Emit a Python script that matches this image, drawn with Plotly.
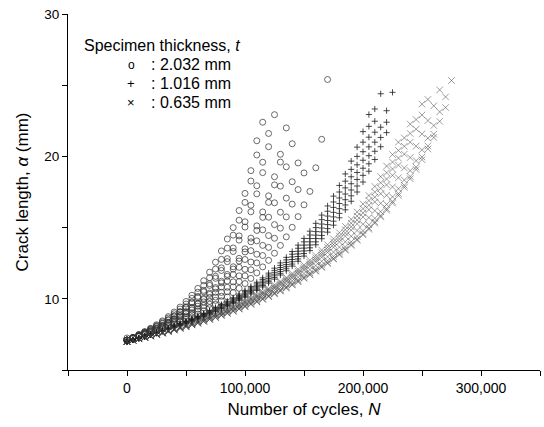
import plotly.graph_objects as go

# Readings every 5,000 cycles; one list of crack lengths (mm) per specimen
STEP = 5000

# t = 2.032 mm (circles)
t2032 = [
    [7.25,7.29,7.49,7.70,7.93,8.18,8.45,8.75,9.07,9.42,9.81,10.25,10.73,11.27,11.87,12.57,13.36,14.20,15.00,16.20,17.40,19.00,21.10],
    [7.10,7.28,7.47,7.67,7.89,8.12,8.38,8.65,8.95,9.28,9.63,10.03,10.46,10.94,11.48,12.09,12.77,13.56,14.47,15.52,16.77,18.27,20.10,22.40],
    [7.10,7.27,7.45,7.64,7.84,8.06,8.29,8.54,8.82,9.11,9.43,9.78,10.17,10.59,11.06,11.58,12.17,12.82,13.57,14.42,15.41,16.57,17.94,19.59,21.61],
    [7.10,7.26,7.44,7.62,7.82,8.04,8.26,8.51,8.78,9.06,9.37,9.71,10.08,10.49,10.94,11.44,11.99,12.61,13.32,14.12,15.04,16.11,17.37,18.86,20.68,22.93],
    [7.10,7.25,7.41,7.58,7.75,7.94,8.14,8.36,8.59,8.84,9.10,9.39,9.70,10.03,10.40,10.79,11.23,11.71,12.25,12.84,13.51,14.26,15.12,16.10,17.23,18.57,20.15],
    [7.10,7.25,7.40,7.57,7.74,7.93,8.12,8.33,8.56,8.80,9.06,9.33,9.63,9.96,10.31,10.69,11.12,11.58,12.09,12.65,13.29,14.00,14.80,15.72,16.77,18.00,19.60,22.00],
    [7.10,7.24,7.39,7.55,7.71,7.89,8.07,8.27,8.48,8.71,8.95,9.21,9.48,9.78,10.10,10.45,10.83,11.25,11.70,12.21,12.76,13.38,14.07,14.84,15.73,16.74,17.91,19.27,20.89],
    [7.10,7.23,7.37,7.52,7.67,7.83,8.00,8.18,8.37,8.58,8.79,9.02,9.27,9.53,9.82,10.12,10.45,10.81,11.19,11.61,12.07,12.58,13.13,13.75,14.44,15.21,16.08,17.07,18.22,19.54],
    [7.10,7.23,7.36,7.49,7.64,7.79,7.95,8.12,8.30,8.48,8.68,8.90,9.12,9.36,9.62,9.89,10.18,10.50,10.84,11.21,11.61,12.04,12.52,13.04,13.61,14.25,14.96,15.75,16.65,17.67,18.84],
    [7.10,7.22,7.34,7.46,7.60,7.74,7.88,8.04,8.20,8.37,8.55,8.73,8.93,9.15,9.37,9.61,9.86,10.13,10.43,10.74,11.07,11.43,11.82,12.24,12.70,13.20,13.75,14.35,15.02,15.77,16.60,17.54,19.20,21.20,25.40],
]

# t = 1.016 mm (plus)
t1016 = [
    [7.00,7.12,7.25,7.38,7.51,7.65,7.79,7.94,8.10,8.26,8.43,8.60,8.79,8.98,9.18,9.39,9.60,9.83,10.07,10.33,10.59,10.87,11.16,11.47,11.80,12.15,12.52,12.91,13.32,13.77,14.24,14.75,15.30,15.88,16.52,17.21,17.96,18.77,19.67,20.65,21.74,22.94],
    [7.00,7.12,7.24,7.37,7.50,7.64,7.78,7.92,8.08,8.24,8.40,8.57,8.75,8.94,9.13,9.33,9.55,9.77,10.00,10.24,10.50,10.77,11.05,11.35,11.67,12.00,12.35,12.73,13.13,13.55,14.00,14.48,15.00,15.56,16.15,16.80,17.50,18.26,19.09,20.00,21.00,22.11,23.33,24.40],
    [7.00,7.12,7.24,7.36,7.49,7.63,7.76,7.91,8.06,8.21,8.37,8.54,8.71,8.90,9.09,9.28,9.49,9.70,9.93,10.17,10.41,10.68,10.95,11.24,11.54,11.86,12.20,12.56,12.94,13.34,13.77,14.23,14.72,15.25,15.81,16.42,17.08,17.79,18.57,19.41,20.33,21.35,22.47],
    [7.00,7.11,7.23,7.36,7.48,7.61,7.75,7.89,8.04,8.19,8.35,8.51,8.68,8.86,9.04,9.23,9.43,9.64,9.86,10.09,10.33,10.59,10.85,11.13,11.42,11.73,12.06,12.40,12.76,13.15,13.56,14.00,14.47,14.97,15.50,16.07,16.69,17.36,18.08,18.87,19.73,20.67,21.70],
    [7.00,7.11,7.23,7.35,7.47,7.60,7.74,7.88,8.02,8.17,8.32,8.48,8.65,8.82,9.00,9.19,9.38,9.59,9.80,10.02,10.26,10.50,10.76,11.03,11.31,11.61,11.92,12.25,12.60,12.97,13.36,13.78,14.23,14.70,15.21,15.75,16.33,16.96,17.64,18.38,19.17,20.05,21.00,22.05,23.21,24.50],
    [7.00,7.11,7.23,7.34,7.47,7.59,7.72,7.86,8.00,8.15,8.30,8.45,8.62,8.78,8.96,9.14,9.33,9.53,9.74,9.96,10.18,10.42,10.67,10.93,11.20,11.49,11.79,12.11,12.44,12.80,13.18,13.58,14.00,14.45,14.93,15.45,16.00,16.59,17.23,17.92,18.67,19.48,20.36,21.33,22.40],
    [7.00,7.11,7.22,7.34,7.46,7.58,7.71,7.84,7.98,8.13,8.27,8.43,8.58,8.75,8.92,9.10,9.29,9.48,9.68,9.89,10.11,10.34,10.58,10.83,11.10,11.38,11.67,11.97,12.30,12.64,13.00,13.38,13.79,14.22,14.68,15.17,15.69,16.25,16.85,17.50,18.20,18.96,19.78,20.68,21.67],
]

# t = 0.635 mm (cross)
t0635 = [
    [7.00,7.10,7.21,7.32,7.43,7.55,7.67,7.79,7.92,8.05,8.19,8.33,8.47,8.63,8.78,8.94,9.11,9.29,9.47,9.66,9.86,10.06,10.28,10.50,10.73,10.98,11.23,11.50,11.78,12.08,12.38,12.71,13.05,13.42,13.80,14.21,14.64,15.09,15.58,16.10,16.66,17.25,17.89,18.58,19.32,20.13,21.00],
    [7.00,7.10,7.21,7.31,7.42,7.54,7.66,7.78,7.90,8.03,8.17,8.31,8.45,8.60,8.75,8.91,9.07,9.25,9.42,9.61,9.80,10.00,10.21,10.43,10.65,10.89,11.14,11.40,11.67,11.95,12.25,12.56,12.89,13.24,13.61,14.00,14.41,14.85,15.31,15.81,16.33,16.90,17.50,18.15,18.85,19.60,20.42,21.30,22.27],
    [7.00,7.10,7.20,7.31,7.42,7.53,7.65,7.77,7.89,8.02,8.15,8.28,8.42,8.57,8.72,8.88,9.04,9.20,9.38,9.56,9.75,9.94,10.14,10.35,10.57,10.80,11.04,11.30,11.56,11.83,12.12,12.43,12.74,13.08,13.43,13.81,14.20,14.62,15.06,15.53,16.03,16.57,17.14,17.75,18.41,19.12,19.88,20.71,21.61,22.59,23.67],
    [7.00,7.10,7.20,7.30,7.41,7.52,7.64,7.75,7.88,8.00,8.13,8.26,8.40,8.54,8.69,8.84,9.00,9.16,9.33,9.51,9.69,9.88,10.08,10.29,10.50,10.72,10.96,11.20,11.45,11.72,12.00,12.29,12.60,12.92,13.26,13.62,14.00,14.40,14.82,15.27,15.75,16.26,16.80,17.38,18.00,18.67,19.38,20.16,21.00,21.91,22.91,24.00],
    [7.00,7.10,7.19,7.30,7.40,7.51,7.62,7.73,7.85,7.97,8.09,8.22,8.35,8.49,8.63,8.78,8.93,9.09,9.25,9.42,9.59,9.77,9.96,10.16,10.36,10.57,10.79,11.02,11.26,11.51,11.77,12.05,12.33,12.63,12.95,13.28,13.63,14.00,14.39,14.80,15.24,15.70,16.19,16.71,17.27,17.86,18.50,19.19,19.92,20.72,21.58,22.52,23.55,24.67],
    [7.00,7.09,7.19,7.29,7.39,7.49,7.60,7.71,7.82,7.94,8.06,8.18,8.31,8.44,8.58,8.72,8.87,9.02,9.17,9.33,9.50,9.67,9.85,10.04,10.23,10.43,10.64,10.86,11.08,11.32,11.57,11.82,12.09,12.37,12.67,12.98,13.30,13.64,14.00,14.38,14.78,15.20,15.65,16.12,16.63,17.16,17.73,18.34,19.00,19.70,20.46,21.28,22.17,23.13,24.18,25.33],
    [7.00,7.09,7.19,7.28,7.38,7.49,7.59,7.70,7.81,7.93,8.04,8.17,8.29,8.42,8.56,8.69,8.84,8.98,9.14,9.29,9.46,9.63,9.80,9.98,10.17,10.37,10.57,10.78,11.00,11.23,11.47,11.72,11.98,12.25,12.53,12.83,13.15,13.48,13.82,14.18,14.57,14.97,15.40,15.85,16.33,16.84,17.39,17.97,18.59,19.25,19.96,20.73,21.56,22.46,23.43],
    [7.00,7.09,7.19,7.28,7.38,7.48,7.59,7.70,7.81,7.92,8.04,8.16,8.28,8.41,8.55,8.68,8.82,8.97,9.12,9.28,9.44,9.61,9.78,9.96,10.15,10.34,10.54,10.75,10.97,11.19,11.43,11.68,11.93,12.20,12.48,12.78,13.09,13.41,13.75,14.11,14.49,14.88,15.31,15.75,16.22,16.72,17.25,17.82,18.43,19.08,19.77,20.52,21.33],
]

groups = [
    (": 2.032 mm", t2032, "circle-open", 6, "rgba(50,50,50,0.8)", 0.9),
    (": 1.016 mm", t1016, "cross-thin-open", 4.4, "rgba(30,30,30,0.8)", 1.0),
    (": 0.635 mm", t0635, "x-thin-open", 6.5, "rgba(60,60,60,0.5)", 1.0),
]

x_major = [0, 100000, 200000, 300000]
y_major = [10, 20, 30]

fig = go.Figure()
for name, specimens, symbol, size, color, lw in groups:
    xs, ys = [], []
    for spec in specimens:
        xs += [i * STEP for i in range(len(spec))]
        ys += spec
    fig.add_trace(go.Scatter(
        x=xs, y=ys, mode="markers", name=name,
        marker=dict(symbol=symbol, size=size, color=color,
                    line=dict(color=color, width=lw)),
    ))

FONT = "Liberation Sans, Arial, sans-serif"
axis_common = dict(
    showline=True, linecolor="black", linewidth=1.2, mirror=False,
    showgrid=False, zeroline=False,
    ticks="outside", ticklen=5, tickwidth=1, tickcolor="black",
)
fig.update_xaxes(
    range=[-50000, 350000], tickvals=x_major, tickformat=",d",
    tickfont=dict(size=14, family=FONT, color="black"),
    minor=dict(dtick=50000, tick0=0, ticks="outside", ticklen=5,
               tickwidth=1, tickcolor="black", showgrid=False),
    title=dict(text="Number of cycles, <i>N</i>",
               font=dict(size=17, family=FONT, color="black"), standoff=8),
    **axis_common,
)
fig.update_yaxes(
    range=[5, 30], tickvals=y_major,
    tickfont=dict(size=13.5, family=FONT, color="black"),
    minor=dict(dtick=5, tick0=0, ticks="outside", ticklen=5,
               tickwidth=1, tickcolor="black", showgrid=False),
    title=dict(text="Crack length, <i>α</i> (mm)",
               font=dict(size=17, family=FONT, color="black"), standoff=11),
    **axis_common,
)

# legend drawn as text block in the upper-left of the plot
L, R, T, B = 68, 540, 14, 370
def px(xp): return (xp - L) / (R - L)
def py(yp): return (B - yp) / (B - T)

ann = [dict(text="Specimen thickness, <i>t</i>", x=px(82), y=py(45),
            xanchor="left", yanchor="middle", font=dict(size=16))]
sym_txt = ["o", "+", "×"]
sym_size = [12, 13, 13]
rows_y = [65, 83.5, 102]
for (name, *_), s, ss, yy in zip(groups, sym_txt, sym_size, rows_y):
    ann.append(dict(text=s, x=px(131), y=py(yy), xanchor="center",
                    yanchor="middle", font=dict(size=ss)))
    ann.append(dict(text=name, x=px(149), y=py(yy), xanchor="left",
                    yanchor="middle", font=dict(size=16)))
for a in ann:
    a.update(xref="paper", yref="paper", showarrow=False)
    a["font"].update(family=FONT, color="black")

fig.update_layout(
    width=544, height=427,
    margin=dict(l=68, r=4, t=14, b=57),
    paper_bgcolor="white", plot_bgcolor="white",
    showlegend=False,
    font=dict(family=FONT, color="black"),
    annotations=ann,
)

fig.write_html("out.html")
